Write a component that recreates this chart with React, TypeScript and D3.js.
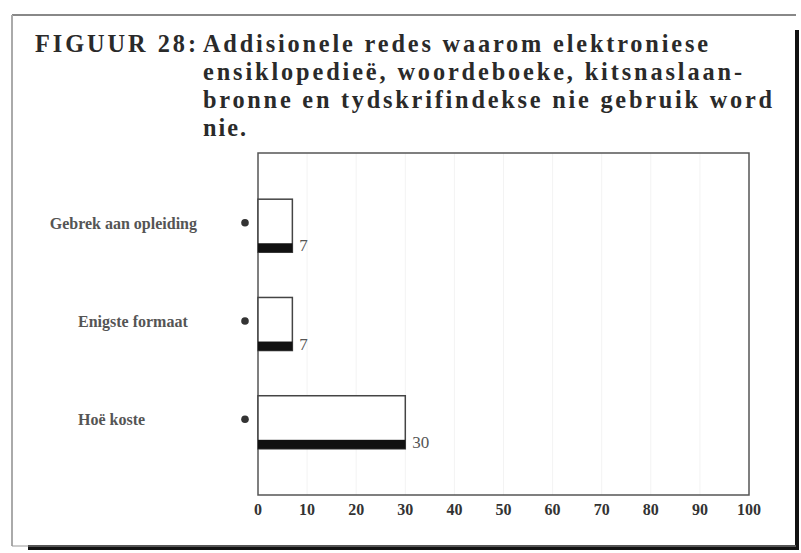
import React from "react";
import * as d3 from "d3";

const categories = ["Gebrek aan opleiding", "Enigste formaat", "Hoë koste"];
const values = [7, 7, 30];
const ticks = [0, 10, 20, 30, 40, 50, 60, 70, 80, 90, 100];
const titleLead = "FIGUUR 28:";
const titleLines = [
  "Addisionele redes waarom elektroniese",
  "ensiklopedieë, woordeboeke, kitsnaslaan-",
  "bronne en tydskrifindekse nie gebruik word",
  "nie.",
];

const W = 801;
const H = 553;
const plot = { left: 258, right: 749, top: 153, bottom: 495 };
const serif = "'Liberation Serif', 'Times New Roman', serif";

function measure(text: string, font: string): number {
  if (typeof document === "undefined") return text.length * 7;
  const c = document.createElement("canvas");
  const ctx = c.getContext("2d");
  if (!ctx) return text.length * 7;
  ctx.font = font;
  return ctx.measureText(text).width;
}

export default function App() {
  const x = d3.scaleLinear().domain([0, 100]).range([plot.left, plot.right]);
  const y = d3
    .scaleBand<string>()
    .domain(categories)
    .range([plot.top, plot.bottom])
    .paddingInner(0.46)
    .paddingOuter(0.47);
  const bw = y.bandwidth();
  const titleLengths: (number | undefined)[] = [505, 539, 569, undefined];
  const titleBase = [52, 80, 108, 136];
  const titleSize = 24.3;
  const labelFont = `bold 16px ${serif}`;

  return (
    <svg
      width={W}
      height={H}
      style={{ position: "absolute", left: 0, top: 0, background: "#fff" }}
    >
      {/* frame with shadow */}
      <rect x={28} y={545} width={771} height={5} fill="#111" />
      <rect x={795} y={30} width={4} height={520} fill="#111" />
      <line x1={12} y1={15} x2={796} y2={15} stroke="#888" strokeWidth={2} />
      <line x1={12} y1={15} x2={12} y2={546} stroke="#aaa" strokeWidth={2} />
      <line x1={12} y1={546} x2={796} y2={546} stroke="#999" strokeWidth={1} />

      {/* title */}
      <text
        x={35}
        y={titleBase[0]}
        fontFamily={serif}
        fontWeight="bold"
        fontSize={titleSize}
        fill="#2a2a2a"
        textLength={161}
        lengthAdjust="spacing"
      >
        {titleLead}
      </text>
      {titleLines.map((t, i) => (
        <text
          key={i}
          x={203}
          y={titleBase[i]}
          fontFamily={serif}
          fontWeight="bold"
          fontSize={titleSize}
          fill="#2a2a2a"
          textLength={titleLengths[i]}
          lengthAdjust={titleLengths[i] ? "spacing" : undefined}
          letterSpacing={titleLengths[i] ? undefined : 2}
        >
          {t}
        </text>
      ))}

      {/* faint gridlines */}
      {ticks.slice(1, -1).map((t) => (
        <line
          key={t}
          x1={x(t)}
          x2={x(t)}
          y1={plot.top}
          y2={plot.bottom}
          stroke="#f3f3f3"
          strokeWidth={1}
        />
      ))}

      {/* plot border */}
      <rect
        x={plot.left}
        y={plot.top}
        width={plot.right - plot.left}
        height={plot.bottom - plot.top}
        fill="none"
        stroke="#555"
        strokeWidth={1.5}
      />

      {/* bars */}
      {categories.map((c, i) => {
        const y0 = y(c) as number;
        const w = x(values[i]) - x(0);
        const labelW = measure(c, labelFont);
        const lx = Math.min(78, 197 - labelW);
        return (
          <g key={c}>
            <rect
              x={x(0)}
              y={y0}
              width={w}
              height={bw}
              fill="#fff"
              stroke="#444"
              strokeWidth={1.5}
            />
            <rect x={x(0)} y={y0 + bw - 9} width={w} height={9} fill="#111" />
            <text
              x={x(values[i]) + 7}
              y={y0 + bw - 1}
              fontFamily={serif}
              fontSize={17}
              fill="#555"
            >
              {values[i]}
            </text>
            <circle cx={245} cy={y0 + bw / 2 - 3} r={3.8} fill="#333" />
            <text
              x={lx}
              y={y0 + bw / 2 + 3}
              fontFamily={serif}
              fontWeight="bold"
              fontSize={16}
              fill="#555"
            >
              {c}
            </text>
          </g>
        );
      })}

      {/* x tick labels */}
      {ticks.map((t) => (
        <text
          key={t}
          x={x(t)}
          y={515}
          textAnchor="middle"
          fontFamily={serif}
          fontWeight="bold"
          fontSize={16}
          fill="#333"
        >
          {t}
        </text>
      ))}
    </svg>
  );
}
